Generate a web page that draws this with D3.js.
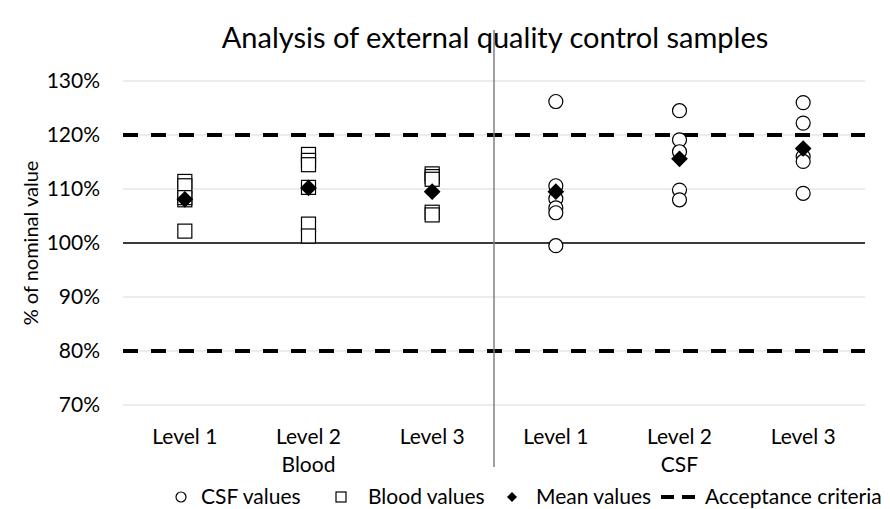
<!DOCTYPE html>
<html>
<head>
<meta charset="utf-8">
<script src="https://cdn.jsdelivr.net/npm/d3@7"></script>
<style>
  body { margin: 0; background: #fff; }
  svg text { font-family: Lato, "Open Sans", sans-serif; fill: #000; }
</style>
</head>
<body>
<div id="chart"></div>
<script>
// chart values
const categories = ["Level 1", "Level 2", "Level 3", "Level 1", "Level 2", "Level 3"];
const groups = ["Blood", "CSF"];
const bloodValues = [
  [111.4, 110.6, 108.0, 108.4, 102.2],
  [116.4, 115.3, 114.5, 110.3, 103.5, 101.3],
  [112.8, 112.3, 111.8, 105.7, 105.2]
];
const csfValues = [
  [126.2, 110.6, 108.2, 106.5, 105.6, 99.5],
  [124.5, 119.1, 116.9, 109.8, 108.0],
  [126.0, 122.2, 116.0, 115.1, 109.2]
];
const meanValues = [108.1, 110.2, 109.5, 109.5, 115.6, 117.5];
const acceptance = [80, 120];
const nominal = 100;
const yTicks = [70, 80, 90, 100, 110, 120, 130];

const width = 890, height = 509;
const margin = {top: 81, right: 25, bottom: 104, left: 123};

const svg = d3.select("#chart").append("svg")
  .attr("width", width)
  .attr("height", height);

const keys = categories.map((c, i) => i);
const x = d3.scaleBand()
  .domain(keys)
  .range([margin.left, width - margin.right]);

const y = d3.scaleLinear()
  .domain([70, 130])
  .range([height - margin.bottom, margin.top]);

// gridlines
svg.append("g")
  .selectAll("line")
  .data(yTicks)
  .join("line")
    .attr("x1", x.range()[0])
    .attr("x2", x.range()[1])
    .attr("y1", d => y(d))
    .attr("y2", d => y(d))
    .attr("stroke", "#d9d9d9")
    .attr("stroke-width", 1);

// y tick labels
svg.append("g")
  .selectAll("text")
  .data(yTicks)
  .join("text")
    .attr("x", 100)
    .attr("y", d => y(d))
    .attr("dy", "0.35em")
    .attr("text-anchor", "end")
    .style("font-size", "21px")
    .text(d => d + "%");

// nominal line
svg.append("line")
  .attr("x1", x.range()[0])
  .attr("x2", x.range()[1])
  .attr("y1", y(nominal))
  .attr("y2", y(nominal))
  .attr("stroke", "#000")
  .attr("stroke-width", 1.5);

// acceptance criteria
svg.append("g")
  .selectAll("line")
  .data(acceptance)
  .join("line")
    .attr("x1", x.range()[0])
    .attr("x2", x.range()[1])
    .attr("y1", d => y(d))
    .attr("y2", d => y(d))
    .attr("stroke", "#000")
    .attr("stroke-width", 4)
    .attr("stroke-dasharray", "15,13");

// group divider
const divX = x(3);
svg.append("line")
  .attr("x1", divX).attr("x2", divX)
  .attr("y1", 30).attr("y2", 467)
  .attr("stroke", "#808080")
  .attr("stroke-width", 1.5);

const cx = i => x(i) + x.bandwidth() / 2;

// CSF circles
csfValues.forEach((vals, j) => {
  svg.append("g")
    .selectAll("circle")
    .data(vals)
    .join("circle")
      .attr("cx", cx(j + 3))
      .attr("cy", d => y(d))
      .attr("r", 7)
      .attr("fill", "#fff")
      .attr("stroke", "#000")
      .attr("stroke-width", 1.2);
});

// blood squares
bloodValues.forEach((vals, j) => {
  svg.append("g")
    .selectAll("rect")
    .data(vals)
    .join("rect")
      .attr("x", cx(j) - 7)
      .attr("y", d => y(d) - 7)
      .attr("width", 14)
      .attr("height", 14)
      .attr("fill", "#fff")
      .attr("stroke", "#000")
      .attr("stroke-width", 1.2);
});

// mean diamonds
svg.append("g")
  .selectAll("path")
  .data(meanValues)
  .join("path")
    .attr("d", d3.symbol().type(d3.symbolSquare).size(140))
    .attr("transform", (d, i) => `translate(${cx(i)},${y(d)}) rotate(45)`)
    .attr("fill", "#000");

// category labels
svg.append("g")
  .selectAll("text")
  .data(categories)
  .join("text")
    .attr("x", (d, i) => cx(i))
    .attr("y", 444)
    .attr("text-anchor", "middle")
    .style("font-size", "21px")
    .text(d => d);

svg.append("g")
  .selectAll("text")
  .data(groups)
  .join("text")
    .attr("x", (d, i) => cx(i * 3 + 1))
    .attr("y", 472)
    .attr("text-anchor", "middle")
    .style("font-size", "21px")
    .text(d => d);

// axis title
svg.append("text")
  .attr("transform", `translate(38,${y(100)}) rotate(-90)`)
  .attr("text-anchor", "middle")
  .style("font-size", "20px")
  .text("% of nominal value");

// chart title
svg.append("text")
  .attr("x", 495)
  .attr("y", 48)
  .attr("text-anchor", "middle")
  .style("font-size", "29px")
  .text("Analysis of external quality control samples");

// legend
const legend = svg.append("g").attr("transform", "translate(0,497)");
const lg = [
  {label: "CSF values", sx: 181, tx: 201},
  {label: "Blood values", sx: 341, tx: 368},
  {label: "Mean values", sx: 512, tx: 536},
  {label: "Acceptance criteria", sx: 678, tx: 705}
];
legend.append("circle").attr("cx", lg[0].sx).attr("cy", 0).attr("r", 5)
  .attr("fill", "#fff").attr("stroke", "#000").attr("stroke-width", 1.2);
legend.append("rect").attr("x", lg[1].sx - 5).attr("y", -5).attr("width", 10).attr("height", 10)
  .attr("fill", "#fff").attr("stroke", "#000").attr("stroke-width", 1.2);
legend.append("path").attr("d", d3.symbol().type(d3.symbolSquare).size(50))
  .attr("transform", `translate(${lg[2].sx},0) rotate(45)`).attr("fill", "#000");
legend.append("line").attr("x1", lg[3].sx - 17).attr("x2", lg[3].sx + 17)
  .attr("y1", 0).attr("y2", 0)
  .attr("stroke", "#000").attr("stroke-width", 4).attr("stroke-dasharray", "13,8");
legend.selectAll("text.lab")
  .data(lg)
  .join("text")
    .attr("class", "lab")
    .attr("x", d => d.tx)
    .attr("y", 0)
    .attr("dy", "0.35em")
    .style("font-size", "21px")
    .text(d => d.label);
</script>
</body>
</html>
